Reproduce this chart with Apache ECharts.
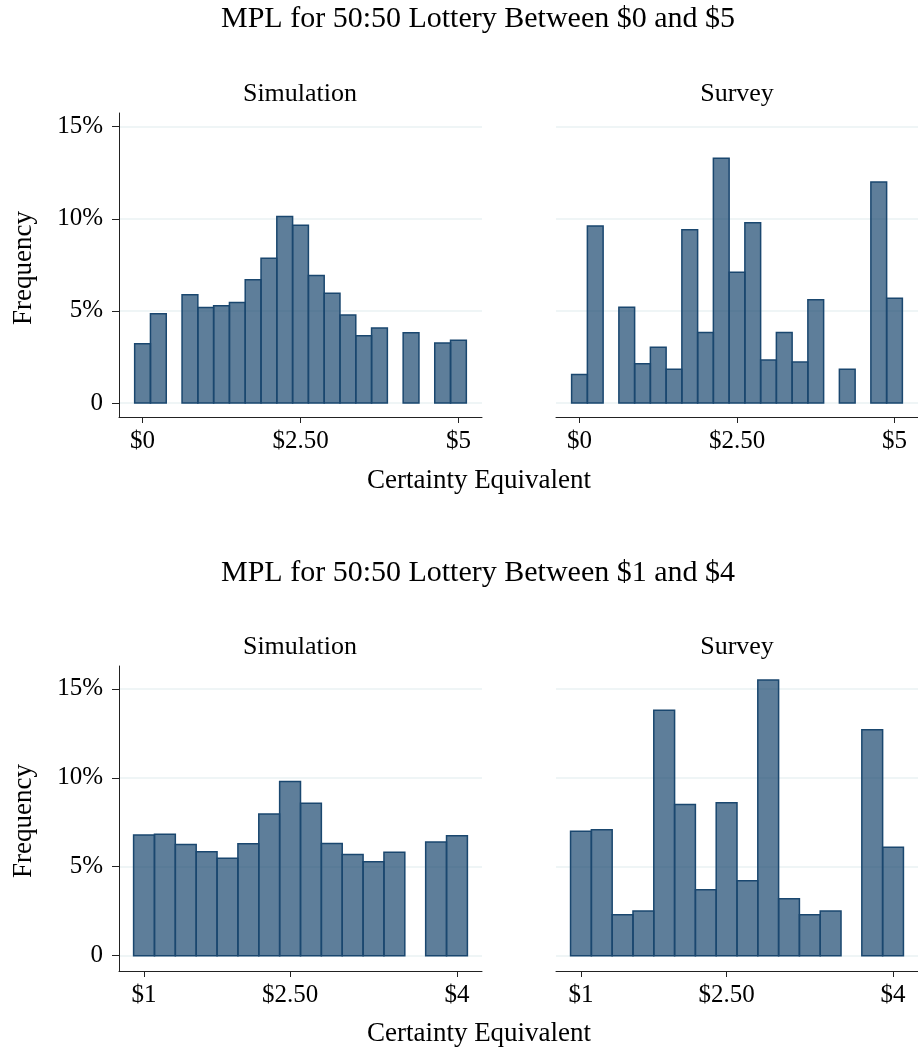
<!DOCTYPE html>
<html>
<head>
<meta charset="utf-8">
<script src="https://cdn.jsdelivr.net/npm/echarts@6/dist/echarts.min.js"></script>
<style>
html, body { margin: 0; padding: 0; background: #fff; }
#main { width: 918px; height: 1050px; }
</style>
</head>
<body>
<div id="main"></div>
<script>
// histogram bins (bin centres) and heights in percent
var topBins = [0, 0.25, 0.5, 0.75, 1, 1.25, 1.5, 1.75, 2, 2.25, 2.5, 2.75, 3, 3.25, 3.5, 3.75, 4, 4.25, 4.5, 4.75, 5];
var topSim = [3.22, 4.84, null, 5.87, 5.19, 5.28, 5.46, 6.69, 7.86, 10.12, 9.65, 6.92, 5.96, 4.77, 3.65, 4.07, null, 3.81, null, 3.25, 3.40];
var topSurvey = [1.54, 9.60, null, 5.20, 2.13, 3.02, 1.83, 9.40, 3.83, 13.28, 7.10, 9.78, 2.33, 3.83, 2.22, 5.60, null, 1.83, null, 12.00, 5.69];

var bottomBins = [1, 1.2, 1.4, 1.6, 1.8, 2, 2.2, 2.4, 2.6, 2.8, 3, 3.2, 3.4, 3.6, 3.8, 4];
var bottomSim = [6.78, 6.82, 6.25, 5.84, 5.47, 6.29, 7.96, 9.79, 8.56, 6.31, 5.69, 5.28, 5.81, null, 6.39, 6.74];
var bottomSurvey = [7.00, 7.08, 2.30, 2.51, 13.80, 8.50, 3.71, 8.60, 4.21, 15.49, 3.20, 2.30, 2.51, null, 12.70, 6.09];

var topTicks = [0, 2.5, 5];
var topTickLabels = ['$0', '$2.50', '$5'];
var bottomTicks = [1, 2.4, 4];
var bottomTickLabels = ['$1', '$2.50', '$4'];
var yTicks = [0, 5, 10, 15];
var yTickLabels = ['0', '5%', '10%', '15%'];

var FONT = 'Liberation Serif';

function pairs(bins, vals) {
    var out = [];
    for (var i = 0; i < bins.length; i++) {
        if (vals[i] != null) out.push([bins[i], vals[i]]);
    }
    return out;
}

function labelFor(ticks, labels) {
    return function (v) {
        var best = 0;
        for (var i = 1; i < ticks.length; i++) {
            if (Math.abs(ticks[i] - v) < Math.abs(ticks[best] - v)) best = i;
        }
        return labels[best];
    };
}

function histSeries(idx, data, binWidth) {
    return {
        type: 'custom',
        xAxisIndex: idx,
        yAxisIndex: idx,
        data: data,
        renderItem: function (params, api) {
            var x = api.value(0), y = api.value(1);
            var p0 = api.coord([x - binWidth / 2, y]);
            var p1 = api.coord([x + binWidth / 2, 0]);
            return {
                type: 'rect',
                shape: { x: p0[0], y: p0[1], width: p1[0] - p0[0], height: p1[1] - p0[1] },
                style: { fill: 'rgba(26,71,111,0.7)', stroke: '#1a476f', lineWidth: 1.5 }
            };
        }
    };
}

function xAxis(idx, min, max, ticks, labels) {
    return {
        type: 'value',
        gridIndex: idx,
        min: min,
        max: max,
        axisLine: { show: true, onZero: false, lineStyle: { color: '#222', width: 1 } },
        axisTick: { show: true, customValues: ticks, length: 6, lineStyle: { color: '#222' } },
        axisLabel: {
            customValues: ticks,
            formatter: labelFor(ticks, labels),
            fontFamily: FONT, fontSize: 25, color: '#000', margin: 12
        },
        splitLine: { show: false }
    };
}

function yAxis(idx, min, max, showAxis) {
    return {
        type: 'value',
        gridIndex: idx,
        min: min,
        max: max,
        axisLine: { show: showAxis, onZero: false, lineStyle: { color: '#222', width: 1 } },
        axisTick: { show: showAxis, customValues: yTicks, length: 7, lineStyle: { color: '#222' } },
        axisLabel: {
            show: showAxis,
            customValues: yTicks,
            formatter: labelFor(yTicks, yTickLabels),
            fontFamily: FONT, fontSize: 25, color: '#000', margin: 16
        },
        splitLine: { show: true, lineStyle: { color: '#eaf2f3', width: 1.5 } }
    };
}

function txt(t, x, y, size, rot) {
    return {
        type: 'text',
        x: x, y: y,
        rotation: rot || 0,
        style: {
            text: t, fontFamily: FONT, fontSize: size, fill: '#000',
            align: 'center', verticalAlign: 'middle'
        }
    };
}

var myChart = echarts.init(document.getElementById('main'));
var option = {
    animation: false,
    backgroundColor: '#fff',
    grid: [
        { left: 119, top: 113, width: 363, height: 304 },
        { left: 556, top: 113, width: 363, height: 304 },
        { left: 119, top: 666, width: 363, height: 305 },
        { left: 556, top: 666, width: 363, height: 305 }
    ],
    xAxis: [
        xAxis(0, -0.373, 5.373, topTicks, topTickLabels),
        xAxis(1, -0.373, 5.373, topTicks, topTickLabels),
        xAxis(2, 0.76, 4.24, bottomTicks, bottomTickLabels),
        xAxis(3, 0.76, 4.24, bottomTicks, bottomTickLabels)
    ],
    yAxis: [
        yAxis(0, -0.76, 15.74, true),
        yAxis(1, -0.76, 15.74, false),
        yAxis(2, -0.86, 16.28, true),
        yAxis(3, -0.86, 16.28, false)
    ],
    graphic: [
        txt('MPL for 50:50 Lottery Between $0 and $5', 478, 19, 30),
        txt('Simulation', 300, 94, 26),
        txt('Survey', 737, 94, 26),
        txt('Certainty Equivalent', 479, 481, 27),
        txt('Frequency', 24, 268, 27, Math.PI / 2),
        txt('MPL for 50:50 Lottery Between $1 and $4', 478, 573, 30),
        txt('Simulation', 300, 647, 26),
        txt('Survey', 737, 647, 26),
        txt('Certainty Equivalent', 479, 1034, 27),
        txt('Frequency', 24, 821, 27, Math.PI / 2)
    ],
    series: [
        histSeries(0, pairs(topBins, topSim), 0.25),
        histSeries(1, pairs(topBins, topSurvey), 0.25),
        histSeries(2, pairs(bottomBins, bottomSim), 0.2),
        histSeries(3, pairs(bottomBins, bottomSurvey), 0.2)
    ]
};
myChart.setOption(option);
</script>
</body>
</html>
